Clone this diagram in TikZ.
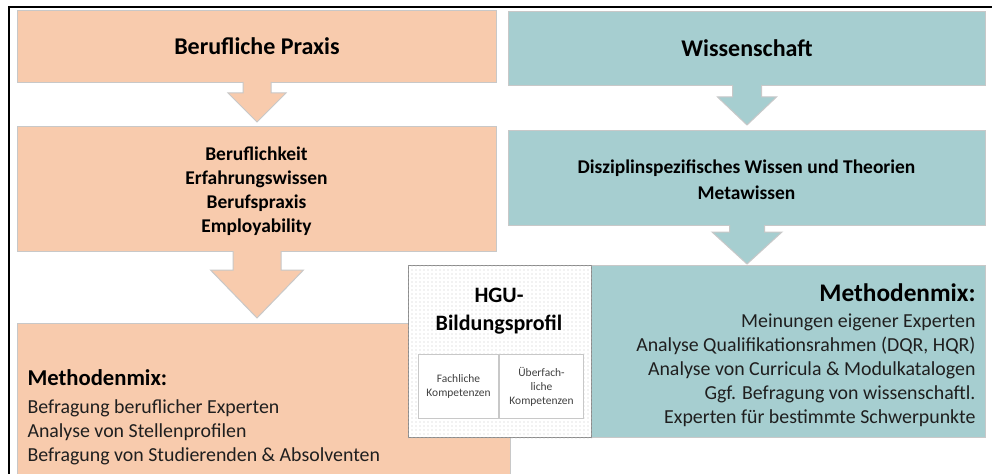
\documentclass[tikz,border=0pt]{standalone}
\usepackage{fontspec}
\setmainfont{Carlito}
\usetikzlibrary{calc,patterns}

\definecolor{praxis}{HTML}{F8CBAD}
\definecolor{wissen}{HTML}{A6CED0}
\definecolor{rand}{HTML}{C8C8C8}

\tikzset{every picture/.style={line width=0.75pt}}
\tikzset{
  pbox/.style={draw=rand, fill=praxis, inner sep=0pt, align=center},
  wbox/.style={draw=rand, fill=wissen, inner sep=0pt, align=center},
  pfeil/.style={draw=rand, line join=miter},
  titel/.style={font=\bfseries\fontsize{18}{22}\selectfont},
  liste/.style={font=\fontsize{14.9}{18}\selectfont, text=black!88, inner sep=0pt},
  zelle/.style={draw=rand, fill=white, inner sep=0pt, align=center, text=black!75,
    font=\fontsize{8.6}{10.5}\selectfont}
}

\begin{document}
\begin{tikzpicture}[x=0.75pt,y=0.75pt,yscale=-1,xscale=1]
%uncomment if require: \path (0,474); %diagram has height of 474
\clip (0,0) rectangle (992,474);
\fill [white] (0,0) rectangle (992,474);
%Frame
\draw [line width=1.3pt]  (9,480) -- (9,7) -- (995,7) ;

%Left column: Berufliche Praxis
\draw (17,10) node (praxis) [pbox, anchor=north west, minimum width=359.25pt, minimum height=54pt, titel] {Berufliche Praxis};
\draw (17,126) node (praxisinhalt) [pbox, anchor=north west, minimum width=359.25pt, minimum height=93.75pt] {};
\draw (17,323) node (praxismix) [pbox, anchor=north west, minimum width=369.75pt, minimum height=120pt] {};

%Down Arrows (left)
\draw [pfeil, fill=praxis] ($(praxis.south)+(-14,-1)$) -- ($(praxis.south |- praxisinhalt.north)+(-14,-33)$) -- ($(praxis.south |- praxisinhalt.north)+(-29,-33)$)
  -- ($(praxis.south |- praxisinhalt.north)+(0,-4)$) -- ($(praxis.south |- praxisinhalt.north)+(29,-33)$) -- ($(praxis.south |- praxisinhalt.north)+(14,-33)$) -- ($(praxis.south)+(14,-1)$) ;
\draw [pfeil, fill=praxis] ($(praxisinhalt.south)+(-24,-1)$) -- ($(praxisinhalt.south |- praxismix.north)+(-24,-53)$) -- ($(praxisinhalt.south |- praxismix.north)+(-46.5,-53)$)
  -- ($(praxisinhalt.south |- praxismix.north)+(0,-5)$) -- ($(praxisinhalt.south |- praxismix.north)+(46.5,-53)$) -- ($(praxisinhalt.south |- praxismix.north)+(24,-53)$) -- ($(praxisinhalt.south)+(24,-1)$) ;

%Right column: Wissenschaft
\draw (508,11) node (wiss) [wbox, anchor=north west, minimum width=357.75pt, minimum height=55.5pt, titel] {Wissenschaft};
\draw (508,130) node (wissinhalt) [wbox, anchor=north west, minimum width=357.75pt, minimum height=71.25pt] {};
\draw (591,265) node (wissmix) [wbox, anchor=north west, minimum width=295.5pt, minimum height=129pt] {};

%Down Arrows (right)
\draw [pfeil, fill=wissen] ($(wiss.south)+(-14.5,-1)$) -- ($(wiss.south |- wissinhalt.north)+(-14.5,-33)$) -- ($(wiss.south |- wissinhalt.north)+(-29.5,-33)$)
  -- ($(wiss.south |- wissinhalt.north)+(0,-5)$) -- ($(wiss.south |- wissinhalt.north)+(29.5,-33)$) -- ($(wiss.south |- wissinhalt.north)+(14.5,-33)$) -- ($(wiss.south)+(14.5,-1)$) ;
\draw [pfeil, fill=wissen] ($(wissinhalt.south)+(-17.5,-1)$) -- ($(wissinhalt.south |- wissmix.north)+(-17.5,-33)$) -- ($(wissinhalt.south |- wissmix.north)+(-35,-33)$)
  -- ($(wissinhalt.south |- wissmix.north)+(0,-1)$) -- ($(wissinhalt.south |- wissmix.north)+(35,-33)$) -- ($(wissinhalt.south |- wissmix.north)+(17.5,-33)$) -- ($(wissinhalt.south)+(17.5,-1)$) ;

%HGU-Bildungsprofil
\draw (408,265) node (hgu) [anchor=north west, draw=black!45, fill=white, minimum width=137.25pt, minimum height=129pt, inner sep=0pt] {};
\fill [pattern=dots, pattern color=black!22] (hgu.north west) rectangle (hgu.south east);
\draw (418,354) node (fach) [zelle, anchor=north west, minimum width=60pt, minimum height=48pt] {Fachliche\\Kompetenzen};
\draw (fach.north east) node (ueberfach) [zelle, anchor=north west, minimum width=63pt, minimum height=48pt] {Überfach-\\liche\\Kompetenzen};

% Text Node
\draw (256.5,191) node (praxisliste) [inner sep=0pt, align=center, font=\bfseries\fontsize{14.6}{18}\selectfont] {Beruflichkeit\\Erfahrungswissen\\Berufspraxis\\Employability};
% Text Node
\draw (746.5,180) node (wissliste) [inner sep=0pt, align=center, font=\bfseries\fontsize{14.6}{19.5}\selectfont] {Disziplinspezifisches Wissen und Theorien\\Metawissen};
% Text Node
\draw (499,311) node (hgutitel) [inner sep=0pt, align=center, font=\bfseries\fontsize{16.5}{21}\selectfont] {HGU-\\Bildungsprofil};
% Text Node
\draw (27,369) node (praxismixkopf) [anchor=north west, inner sep=0pt, font=\bfseries\fontsize{17}{20}\selectfont] {Methodenmix:};
% Text Node
\draw (27,399) node (praxismixliste) [liste, anchor=north west, align=left] {Befragung beruflicher Experten\\Analyse von Stellenprofilen\\Befragung von Studierenden \& Absolventen};
% Text Node
\draw (976,283) node (wissmixkopf) [anchor=north east, inner sep=0pt, font=\bfseries\fontsize{19}{22}\selectfont] {Methodenmix:};
% Text Node
\draw (976,313) node (wissmixliste) [liste, anchor=north east, align=right] {Meinungen eigener Experten\\Analyse Qualifikationsrahmen (DQR, HQR)\\Analyse von Curricula \& Modulkatalogen\\Ggf. Befragung von wissenschaftl.\\Experten für bestimmte Schwerpunkte};
\end{tikzpicture}
\end{document}
